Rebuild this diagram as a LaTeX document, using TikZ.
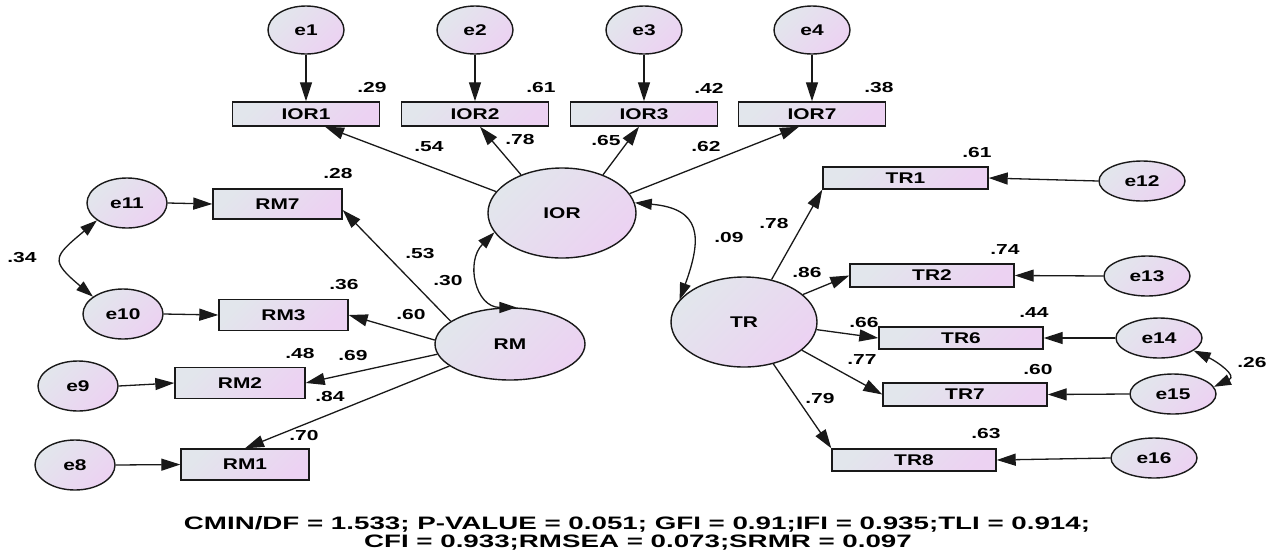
\documentclass[tikz,border=0pt]{standalone}
\usepackage{fontspec}
\setmainfont{Liberation Sans}
\usetikzlibrary{arrows.meta,calc,shapes.geometric}
\definecolor{cA}{RGB}{226,230,236}
\definecolor{cB}{RGB}{236,210,242}
\definecolor{ink}{RGB}{25,25,25}
\newcommand{\hsc}[1]{\scalebox{1.35}[1]{#1}}
\newcommand{\nsc}[1]{\scalebox{1.45}[1]{#1}}
\newcommand{\bsc}[1]{\scalebox{1.54}[1]{#1}}
\begin{document}
\begin{tikzpicture}[x=1pt,y=-1pt,
  grad/.style={top color=cA, bottom color=cB, shading angle=45},
  obs/.style={draw=ink, line width=1.4pt, rectangle, inner sep=0pt, grad, font=\bfseries\fontsize{15.5}{18}\selectfont},
  err/.style={draw=ink, line width=1.4pt, ellipse, inner sep=0pt, grad, font=\bfseries\fontsize{15.5}{18}\selectfont},
  lat/.style={draw=ink, line width=1.4pt, ellipse, inner sep=0pt, grad, font=\bfseries\fontsize{15.5}{18}\selectfont},
  num/.style={inner sep=0pt, font=\bfseries\fontsize{14.5}{16}\selectfont},
  arr/.style={draw=ink, line width=1.3pt, -{Triangle[length=19pt,width=12pt]}},
  cov/.style={draw=ink, line width=1.3pt, {Triangle[length=17pt,width=11pt]}-{Triangle[length=17pt,width=11pt]}},
]
\fill[white] (0,0) rectangle (1272,558);
\useasboundingbox (0,0) rectangle (1272,558);

% latent variables
\node[lat, minimum width=148, minimum height=90] (IOR) at (562,213) {\hsc{IOR}};
\node[lat, minimum width=150, minimum height=72] (RM) at (510,344) {\hsc{RM}};
\node[lat, minimum width=146, minimum height=90] (TR) at (744,322) {\hsc{TR}};

% IOR indicators
\foreach \n/\x in {1/306,2/475,3/644,7/812}{
  \node[obs, minimum width=147, minimum height=24] (IOR\n) at (\x,114) {\hsc{IOR\n}};
}
\node[err, minimum width=76, minimum height=48] (e1) at (306,30) {\hsc{e1}};
\node[err, minimum width=76, minimum height=48] (e2) at (475,30) {\hsc{e2}};
\node[err, minimum width=76, minimum height=48] (e3) at (644,30) {\hsc{e3}};
\node[err, minimum width=76, minimum height=48] (e4) at (812,30) {\hsc{e4}};
\draw[arr] (e1) -- (IOR1);
\draw[arr] (e2) -- (IOR2);
\draw[arr] (e3) -- (IOR3);
\draw[arr] (e4) -- (IOR7);
\draw[arr] (IOR.162) -- ($(IOR1.south)+(19,0)$);
\draw[arr] (IOR.137) -- ($(IOR2.south)+(5,0)$);
\draw[arr] (IOR.43) -- ($(IOR3.south)+(-5,0)$);
\draw[arr] (IOR.16) -- ($(IOR7.south)+(-13,0)$);

% RM indicators
\node[obs, minimum width=129, minimum height=30] (RM7) at (277.5,204) {\hsc{RM7}};
\node[obs, minimum width=129, minimum height=31] (RM3) at (283.5,315) {\hsc{RM3}};
\node[obs, minimum width=130, minimum height=31] (RM2) at (240,383) {\hsc{RM2}};
\node[obs, minimum width=128, minimum height=31] (RM1) at (245,464.5) {\hsc{RM1}};
\node[err, minimum width=80, minimum height=50] (e11) at (127,203) {\hsc{e11}};
\node[err, minimum width=80, minimum height=50] (e10) at (123,314) {\hsc{e10}};
\node[err, minimum width=80, minimum height=50] (e9) at (78,386) {\hsc{e9}};
\node[err, minimum width=80, minimum height=50] (e8) at (75,465) {\hsc{e8}};
\draw[arr] (e11.east) -- (RM7.west);
\draw[arr] (e10.east) -- (RM3.west);
\draw[arr] (e9.east) -- (RM2.west);
\draw[arr] (e8.east) -- (RM1.west);
\draw[arr] (RM.159) -- ($(RM7.east)+(0,6)$);
\draw[arr] (RM.177) -- (RM3.east);
\draw[arr] (RM.188) -- (RM2.east);
\draw[arr] (RM.200) -- (RM1.north);
\draw[cov] (e11.210) to[out=220,in=140,looseness=1.9] (e10.150);

% TR indicators
\node[obs, minimum width=165, minimum height=22] (TR1) at (905.5,178) {\hsc{TR1}};
\node[obs, minimum width=164, minimum height=23] (TR2) at (932,275.5) {\hsc{TR2}};
\node[obs, minimum width=164, minimum height=22] (TR6) at (961,338) {\hsc{TR6}};
\node[obs, minimum width=164, minimum height=23] (TR7) at (965,394.5) {\hsc{TR7}};
\node[obs, minimum width=164, minimum height=22] (TR8) at (914,460) {\hsc{TR8}};
\node[err, minimum width=86, minimum height=40] (e12) at (1142,181) {\hsc{e12}};
\node[err, minimum width=86, minimum height=40] (e13) at (1147,276) {\hsc{e13}};
\node[err, minimum width=86, minimum height=40] (e14) at (1159,338) {\hsc{e14}};
\node[err, minimum width=86, minimum height=40] (e15) at (1173,394) {\hsc{e15}};
\node[err, minimum width=86, minimum height=40] (e16) at (1154,458) {\hsc{e16}};
\draw[arr] (e12.west) -- (TR1.east);
\draw[arr] (e13.west) -- (TR2.east);
\draw[arr] (e14.west) -- (TR6.east);
\draw[arr] (e15.west) -- (TR7.east);
\draw[arr] (e16.west) -- (TR8.east);
\draw[arr] (TR.57) -- (TR1.south west);
\draw[arr] (TR.25) -- (TR2.west);
\draw[arr] (TR.-6) -- (TR6.west);
\draw[arr] (TR.-26) -- (TR7.west);
\draw[arr] (TR.-55) -- (TR8.north west);
\draw[cov] (e14.-20) to[out=-25,in=25,looseness=1.6] (e15.10);

% covariances between latents
\draw[cov] (IOR.196) to[out=225,in=180,looseness=1.35] (RM.80);
\draw[cov] (IOR.8) to[out=-5,in=70,looseness=1.6] (TR.161);

% estimates
\node[num] (r1) at (372,88) {\nsc{.29}};
\node[num] (r2) at (541,88) {\nsc{.61}};
\node[num] (r3) at (709,88) {\nsc{.42}};
\node[num] (r4) at (879,88) {\nsc{.38}};
\node[num] (l1) at (429,147) {\nsc{.54}};
\node[num] (l2) at (520,140) {\nsc{.78}};
\node[num] (l3) at (606,141) {\nsc{.65}};
\node[num] (l4) at (706,147) {\nsc{.62}};
\node[num] (r7) at (338,174) {\nsc{.28}};
\node[num] (r8) at (344,285) {\nsc{.36}};
\node[num] (r9) at (300,353) {\nsc{.48}};
\node[num] (r10) at (304,435) {\nsc{.70}};
\node[num] (l7) at (420,254) {\nsc{.53}};
\node[num] (c1) at (448,281) {\nsc{.30}};
\node[num] (l8) at (411,314) {\nsc{.60}};
\node[num] (l9) at (353,355) {\nsc{.69}};
\node[num] (l10) at (330,396) {\nsc{.84}};
\node[num] (c2) at (22,258) {\nsc{.34}};
\node[num] (c3) at (729,238) {\nsc{.09}};
\node[num] (l11) at (774,224) {\nsc{.78}};
\node[num] (l12) at (807,273) {\nsc{.86}};
\node[num] (l13) at (864,322) {\nsc{.66}};
\node[num] (l14) at (862,360) {\nsc{.77}};
\node[num] (l15) at (820,398) {\nsc{.79}};
\node[num] (r11) at (977,153) {\nsc{.61}};
\node[num] (r12) at (1005,250) {\nsc{.74}};
\node[num] (r13) at (1034,313) {\nsc{.44}};
\node[num] (r14) at (1038,369) {\nsc{.60}};
\node[num] (r15) at (986,434) {\nsc{.63}};
\node[num] (c4) at (1252,362) {\nsc{.26}};

% fit indices
\node[inner sep=0pt, font=\bfseries\fontsize{18}{20}\selectfont] (fit1) at (637,524) {\bsc{CMIN/DF = 1.533; P-VALUE = 0.051; GFI = 0.91;IFI = 0.935;TLI = 0.914;}};
\node[inner sep=0pt, font=\bfseries\fontsize{18}{20}\selectfont] (fit2) at (638,543) {\bsc{CFI = 0.933;RMSEA = 0.073;SRMR = 0.097}};
\end{tikzpicture}
\end{document}
